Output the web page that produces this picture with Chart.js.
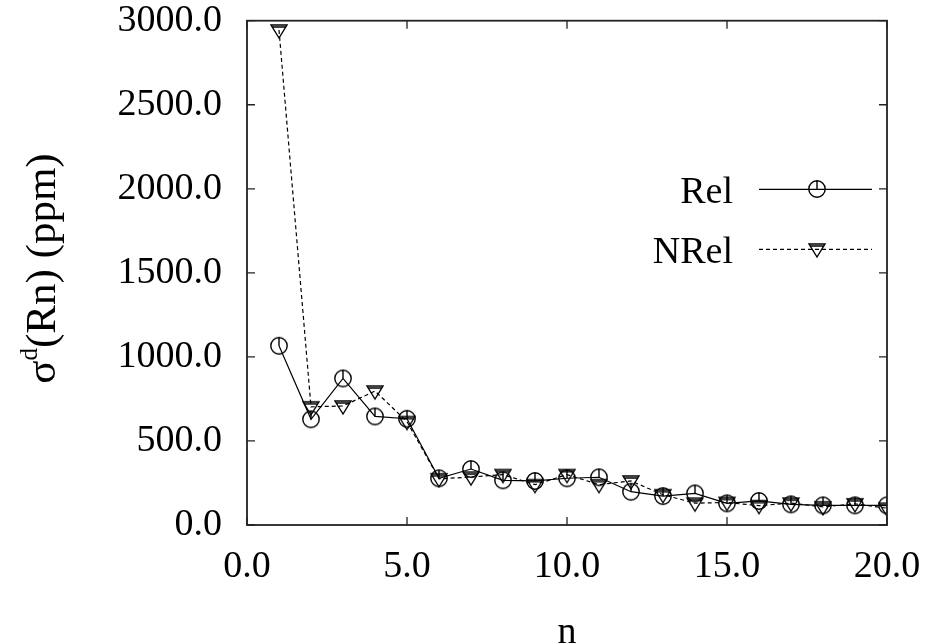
<!DOCTYPE html>
<html>
<head>
<meta charset="utf-8">
<script src="https://cdn.jsdelivr.net/npm/chart.js@4/dist/chart.umd.min.js"></script>
<style>
  html, body { margin: 0; padding: 0; background: #fff; }
  #wrap { width: 925px; height: 644px; position: relative; }
</style>
</head>
<body>
<div id="wrap"><canvas id="myChart"></canvas></div>
<script>
var nValues = [1, 2, 3, 4, 5, 6, 7, 8, 9, 10, 11, 12, 13, 14, 15, 16, 17, 18, 19, 20];
var relValues = [1066, 629, 872, 646, 632, 278, 333, 266, 262, 278, 284, 198, 172, 188, 129, 143, 123, 117, 117, 117];
var nrelValues = [2945, 703, 708, 797, 615, 275, 285, 300, 240, 300, 240, 262, 180, 130, 134, 115, 130, 108, 126, 100];
var seriesNames = ['Rel', 'NRel'];
var xTicks = [0, 5, 10, 15, 20];
var yTicks = [0, 500, 1000, 1500, 2000, 2500, 3000];

var FONT = 'Liberation Serif, Times New Roman, serif';
var FSIZE = 38;

// circle with a short stroke from the top down to the centre
function circleMarker() {
  var c = document.createElement('canvas');
  c.width = 20; c.height = 20;
  var g = c.getContext('2d');
  g.strokeStyle = '#000';
  g.lineWidth = 1.4;
  g.beginPath();
  g.arc(10, 10, 8.2, 0, Math.PI * 2);
  g.moveTo(10, 1.8);
  g.lineTo(10, 10);
  g.stroke();
  return c;
}

// downward triangle, centre sits a little below the top edge
function triangleMarker() {
  var c = document.createElement('canvas');
  c.width = 20; c.height = 20;
  var g = c.getContext('2d');
  g.strokeStyle = '#000';
  g.lineWidth = 1.4;
  g.beginPath();
  g.moveTo(2, 5);
  g.lineTo(18, 5);
  g.lineTo(10, 18);
  g.closePath();
  g.moveTo(3.4, 7);
  g.lineTo(16.6, 7);
  g.stroke();
  return c;
}

var relMarker = circleMarker();
var nrelMarker = triangleMarker();

function toXY(vals) {
  return vals.map(function (v, i) { return { x: nValues[i], y: v }; });
}

// frame with inward ticks, key and the rotated y label
var framePlugin = {
  id: 'frame',
  afterDraw: function (chart) {
    var ctx = chart.ctx;
    var a = chart.chartArea;
    var xs = chart.scales.x, ys = chart.scales.y;
    var tl = 8;
    ctx.save();
    ctx.strokeStyle = '#222';
    ctx.lineWidth = 1.8;
    ctx.strokeRect(a.left, a.top, a.right - a.left, a.bottom - a.top);
    ctx.lineWidth = 1.3;
    ctx.beginPath();
    xTicks.forEach(function (t) {
      var px = xs.getPixelForValue(t);
      ctx.moveTo(px, a.bottom); ctx.lineTo(px, a.bottom - tl);
      ctx.moveTo(px, a.top); ctx.lineTo(px, a.top + tl);
    });
    yTicks.forEach(function (t) {
      var py = ys.getPixelForValue(t);
      ctx.moveTo(a.left, py); ctx.lineTo(a.left + tl, py);
      ctx.moveTo(a.right, py); ctx.lineTo(a.right - tl, py);
    });
    ctx.stroke();

    // key
    var markers = [relMarker, nrelMarker];
    ctx.font = FSIZE + 'px ' + FONT;
    ctx.fillStyle = '#000';
    ctx.textAlign = 'right';
    ctx.textBaseline = 'alphabetic';
    chart.data.datasets.forEach(function (ds, i) {
      var y = a.top + 168.6 + i * 60;
      ctx.fillText(ds.label, a.right - 154, y + 14);
      ctx.strokeStyle = '#000';
      ctx.lineWidth = 1.2;
      ctx.setLineDash(ds.borderDash || []);
      ctx.beginPath();
      ctx.moveTo(a.right - 128, y);
      ctx.lineTo(a.right - 15, y);
      ctx.stroke();
      ctx.setLineDash([]);
      var m = markers[i];
      ctx.drawImage(m, Math.round(a.right - 70 - m.width / 2), Math.round(y - m.height / 2));
    });

    // y axis title with superscript
    var main1 = '\u03c3', sup = 'd', main2 = '(Rn) (ppm)';
    var titleSize = 43, supSize = 25;
    ctx.font = titleSize + 'px ' + FONT;
    var w1 = ctx.measureText(main1).width;
    var w3 = ctx.measureText(main2).width;
    ctx.font = supSize + 'px ' + FONT;
    var w2 = ctx.measureText(sup).width;
    var total = w1 + w2 + w3;
    ctx.translate(54.5, 268.5);
    ctx.rotate(-Math.PI / 2);
    ctx.textAlign = 'left';
    var sx = -total / 2;
    ctx.font = titleSize + 'px ' + FONT;
    ctx.fillText(main1, sx, 0);
    ctx.font = supSize + 'px ' + FONT;
    ctx.fillText(sup, sx + w1, -17.5);
    ctx.font = titleSize + 'px ' + FONT;
    ctx.fillText(main2, sx + w1 + w2, 0);
    ctx.restore();
  }
};

var ctx = document.getElementById('myChart').getContext('2d');
var myChart = new Chart(ctx, {
  type: 'scatter',
  data: {
    datasets: [
      {
        label: seriesNames[0],
        data: toXY(relValues),
        showLine: true,
        borderColor: '#000',
        borderWidth: 1.2,
        pointStyle: relMarker,
        pointRadius: 8,
        order: 1
      }, {
        label: seriesNames[1],
        data: toXY(nrelValues),
        showLine: true,
        borderColor: '#000',
        borderWidth: 1.2,
        borderDash: [4, 3],
        pointStyle: nrelMarker,
        pointRadius: 8,
        order: 2
      }
    ]
  },
  options: {
    responsive: true,
    maintainAspectRatio: false,
    animation: false,
    devicePixelRatio: 1,
    layout: { padding: { top: 20.7, right: 38, left: 0, bottom: 0 } },
    plugins: {
      legend: { display: false },
      tooltip: { enabled: false }
    },
    scales: {
      x: {
        type: 'linear',
        min: 0, max: 20,
        afterBuildTicks: function (s) { s.ticks = xTicks.map(function (v) { return { value: v }; }); },
        afterFit: function (s) {
          s.height = 119;
          s.paddingLeft = 0; s.paddingRight = 0;
        },
        grid: { display: false, drawTicks: false },
        border: { display: false },
        ticks: {
          padding: 19,
          color: '#000',
          font: { family: FONT, size: FSIZE },
          callback: function (v) { return v.toFixed(1); }
        },
        title: {
          display: true,
          text: 'n',
          color: '#000',
          font: { family: FONT, size: FSIZE, lineHeight: 1 },
          padding: { top: 0, bottom: -8 }
        }
      },
      y: {
        type: 'linear',
        min: 0, max: 3000,
        afterBuildTicks: function (s) { s.ticks = yTicks.map(function (v) { return { value: v }; }); },
        afterFit: function (s) {
          s.width = 247;
          s.paddingTop = 0; s.paddingBottom = 0;
        },
        grid: { display: false, drawTicks: false },
        border: { display: false },
        ticks: {
          padding: 25,
          color: '#000',
          font: { family: FONT, size: FSIZE },
          callback: function (v) { return v.toFixed(1); }
        }
      }
    }
  },
  plugins: [framePlugin]
});
</script>
</body>
</html>
